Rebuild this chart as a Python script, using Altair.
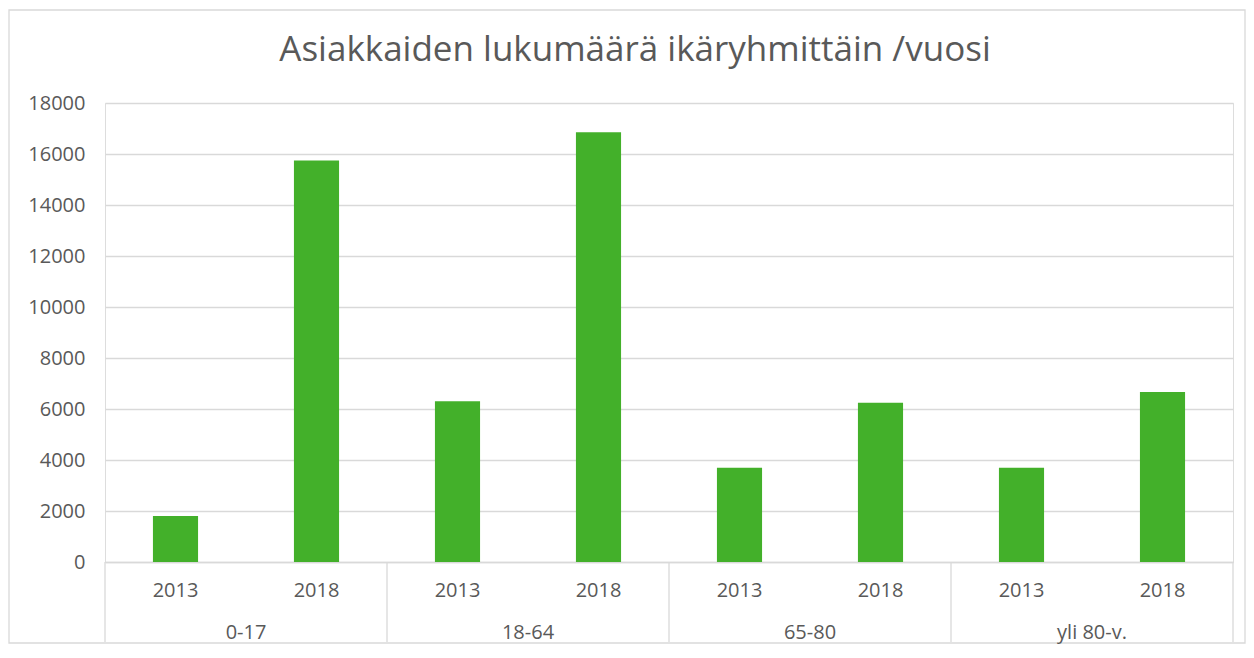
import altair as alt
import pandas as pd

groups = ["0-17", "18-64", "65-80", "yli 80-v."]
years = ["2013", "2018"]
values_2013 = [1800, 6300, 3700, 3700]
values_2018 = [15750, 16850, 6250, 6670]
y_ticks = [0, 2000, 4000, 6000, 8000, 10000, 12000, 14000, 16000, 18000]
title_text = "Asiakkaiden lukumäärä ikäryhmittäin /vuosi"

rows = []
for g, a, b in zip(groups, values_2013, values_2018):
    rows.append({"group": g, "year": years[0], "key": f"{g}|{years[0]}", "value": a})
    rows.append({"group": g, "year": years[1], "key": f"{g}|{years[1]}", "value": b})
df = pd.DataFrame(rows)
keys = list(df["key"])

grp_df = pd.DataFrame({"group": groups, "key": [f"{g}|{years[0]}" for g in groups]})
sep_left = pd.DataFrame({"key": [f"{g}|{years[0]}" for g in groups]})
sep_right = pd.DataFrame({"key": [f"{groups[-1]}|{years[1]}"]})
title_df = pd.DataFrame({"t": [title_text]})
one = pd.DataFrame({"k": [0]})

W, H = 1128, 459
FONT = "Open Sans"
GRAY = "#595959"
LINE = "#d9d9d9"

xscale = alt.Scale(domain=keys, paddingInner=0, paddingOuter=0)

bars = alt.Chart(df).mark_bar(color="#43B02A", width={"band": 0.32}).encode(
    x=alt.X("key:N", scale=xscale, sort=keys, title=None,
            axis=alt.Axis(labelExpr="split(datum.label, '|')[1]", labelAngle=0,
                          ticks=False, labelPadding=18, labelFontSize=20,
                          labelColor=GRAY, labelFont=FONT, domainColor=LINE,
                          domainWidth=1.3, grid=False)),
    y=alt.Y("value:Q", scale=alt.Scale(domain=[0, 18000]), title=None,
            axis=alt.Axis(values=y_ticks, format="d", ticks=False, domain=False,
                          labelPadding=20, labelFontSize=20, labelColor=GRAY,
                          labelFont=FONT, gridColor=LINE, gridWidth=1.3)),
)

group_text = alt.Chart(grp_df).mark_text(fontSize=20, font=FONT, color=GRAY,
                                         baseline="middle", align="center").encode(
    x=alt.X("key:N", scale=xscale, sort=keys, bandPosition=1),
    y=alt.value(H + 71),
    text="group:N",
)

sep1 = alt.Chart(sep_left).mark_rule(color=LINE, strokeWidth=1.3).encode(
    x=alt.X("key:N", scale=xscale, sort=keys, bandPosition=0),
    y=alt.value(H), y2=alt.value(H + 80),
)
sep2 = alt.Chart(sep_right).mark_rule(color=LINE, strokeWidth=1.3).encode(
    x=alt.X("key:N", scale=xscale, sort=keys, bandPosition=1),
    y=alt.value(H), y2=alt.value(H + 80),
)

title_mark = alt.Chart(title_df).mark_text(fontSize=35, font=FONT, color=GRAY,
                                           baseline="middle", align="center").encode(
    x=alt.value(530), y=alt.value(-53), text="t:N",
)

border = alt.Chart(one).mark_rect(fillOpacity=0, stroke=LINE, strokeWidth=1.3).encode(
    x=alt.value(-96), x2=alt.value(1140), y=alt.value(-93), y2=alt.value(540),
)

chart = alt.layer(border, bars, sep1, sep2, group_text, title_mark).properties(
    width=W, height=H,
    autosize=alt.AutoSizeParams(type="none"),
    padding={"left": 97, "top": 95, "right": 13, "bottom": 82},
).configure_view(stroke=None).configure(background="white")

chart.save("out.html", embed_options={"renderer": "svg", "actions": False})
